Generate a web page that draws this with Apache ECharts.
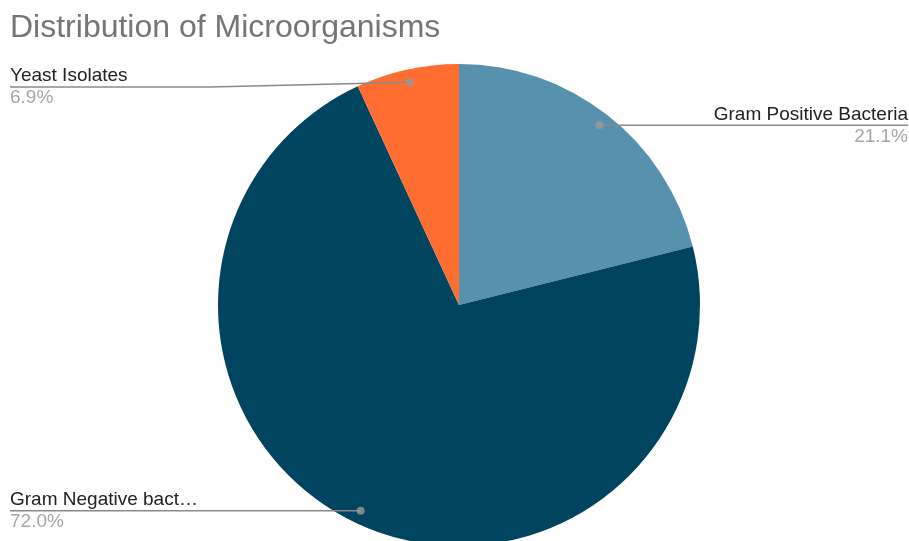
<!DOCTYPE html>
<html>
<head>
<meta charset="utf-8">
<script src="https://cdn.jsdelivr.net/npm/echarts@6/dist/echarts.min.js"></script>
<style>
  html, body { margin: 0; padding: 0; background: #ffffff; }
  #chart { width: 909px; height: 541px; }
</style>
</head>
<body>
<div id="chart"></div>
<script>
// Categories and their shares (percent of isolates)
const categories = ['Gram Positive Bacteria', 'Gram Negative bact\u2026', 'Yeast Isolates'];
const shares = [21.1, 72.0, 6.9];
const colors = ['#5891ad', '#00445f', '#ff6d31'];

const FONT = 'Liberation Sans, Arial, sans-serif';
const W = 909, H = 541;
const CX = 459, CY = 305, R = 241;
const DOT_RATIO = 0.946;      // marker sits just inside the rim
const EDGE_LEFT = 10, EDGE_RIGHT = W - 1;
const LABEL_MIN_Y = 87;       // keeps labels clear of the title

const total = shares.reduce((a, b) => a + b, 0);

// Mid-angle (as cumulative share) of each slice, clockwise from 12 o'clock
const midShares = [];
let acc = 0;
shares.forEach(v => { midShares.push(acc + v / 2); acc += v; });

function dotPoint(i) {
  const t = midShares[i] / total * Math.PI * 2;
  return [CX + R * DOT_RATIO * Math.sin(t), CY - R * DOT_RATIO * Math.cos(t)];
}

const pieData = categories.map((name, i) => ({ name, value: shares[i], itemStyle: { color: colors[i] } }));

const chart = echarts.init(document.getElementById('chart'), null, { renderer: 'canvas' });

chart.setOption({
  backgroundColor: '#ffffff',
  animation: false,
  title: {
    text: 'Distribution of Microorganisms',
    left: 5,
    top: 7,
    textStyle: { fontFamily: FONT, fontSize: 32, fontWeight: 'normal', color: '#757575' }
  },
  polar: { center: [CX, CY], radius: R },
  angleAxis: { type: 'value', min: 0, max: total, startAngle: 90, clockwise: true, show: false },
  radiusAxis: { type: 'value', min: 0, max: 1, show: false },
  series: [
    {
      // the slices
      type: 'pie',
      center: [CX, CY],
      radius: [0, R],
      startAngle: 90,
      clockwise: true,
      silent: true,
      z: 1,
      itemStyle: { borderWidth: 0 },
      data: pieData,
      label: { show: false },
      labelLine: { show: false }
    },
    {
      // same layout, drawn on top: only the labels and their leader lines
      type: 'pie',
      center: [CX, CY],
      radius: [0, R],
      startAngle: 90,
      clockwise: true,
      silent: true,
      z: 3,
      itemStyle: { color: 'rgba(0,0,0,0)', borderWidth: 0 },
      data: categories.map((name, i) => ({ name, value: shares[i] })),
      label: {
        show: true,
        position: 'outside',
        formatter: p => '{n|' + p.name + '}\n{p|' + (p.value / total * 100).toFixed(1) + '%}',
        rich: {
          n: { fontFamily: FONT, fontSize: 19, color: '#222222', lineHeight: 22 },
          p: { fontFamily: FONT, fontSize: 19, color: '#a6a6a6', lineHeight: 22 }
        }
      },
      labelLine: {
        show: true,
        length: 10,
        length2: 10,
        smooth: false,
        lineStyle: { color: '#8a8a8a', width: 1.5 }
      },
      labelLayout: function (params) {
        const i = params.dataIndex;
        const d = dotPoint(i);
        const left = d[0] < CX;
        const y = Math.max(d[1], LABEL_MIN_Y);
        const edge = left ? EDGE_LEFT : EDGE_RIGHT;
        const elbowX = (edge + d[0]) / 2;
        return {
          x: edge,
          y: y,
          align: left ? 'left' : 'right',
          verticalAlign: 'middle',
          labelLinePoints: [[d[0], d[1]], [elbowX, y], [edge, y]]
        };
      }
    },
    {
      // small markers where each label line meets its slice
      type: 'scatter',
      coordinateSystem: 'polar',
      silent: true,
      symbol: 'circle',
      symbolSize: 8,
      itemStyle: { color: '#9a9a9a' },
      z: 5,
      data: midShares.map(m => [DOT_RATIO, m])
    }
  ]
});
</script>
</body>
</html>
